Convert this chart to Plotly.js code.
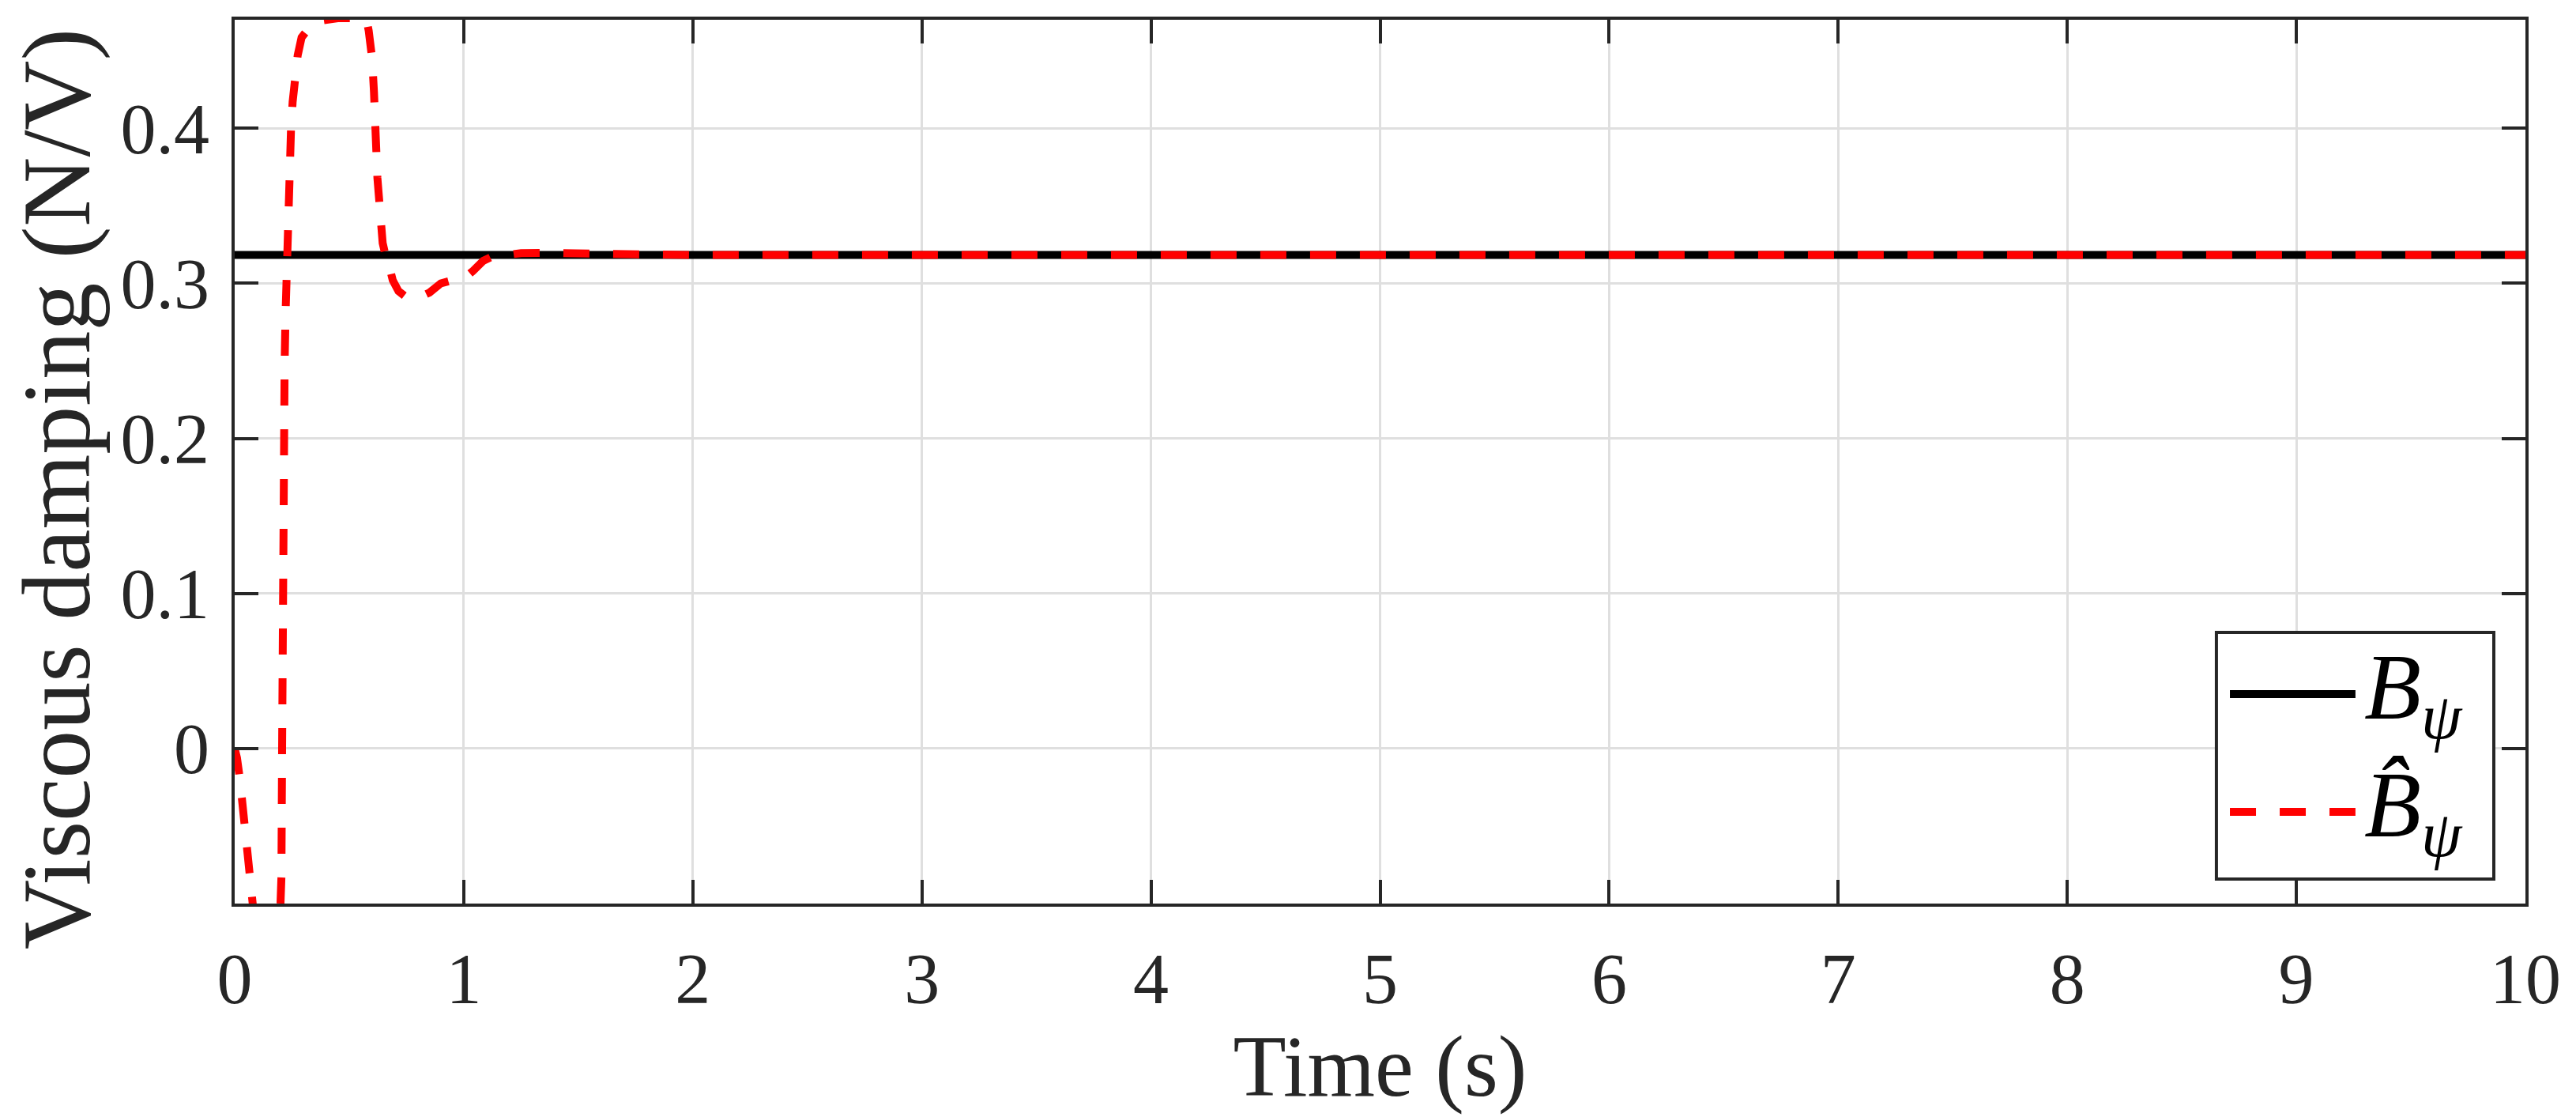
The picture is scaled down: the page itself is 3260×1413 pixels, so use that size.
<!DOCTYPE html>
<html>
<head>
<meta charset="utf-8">
<script src="https://cdn.plot.ly/plotly-3.0.1.min.js"></script>
<style>html,body{margin:0;padding:0;background:#fff;}#chart{width:3260px;height:1413px;}</style>
</head>
<body>
<div id="chart"></div>
<script>
// Time axis (s)
const timeTrue = [0, 10];
const bTrue = [0.3183, 0.3183];

const timeEst = [0, 0.01, 0.023, 0.035, 0.046, 0.057, 0.067, 0.08, 0.095, 0.12, 0.16, 0.19, 0.2, 0.204, 0.207, 0.209, 0.213, 0.218, 0.222, 0.226, 0.230, 0.234, 0.240, 0.246, 0.253, 0.261, 0.275, 0.292, 0.31, 0.331, 0.36, 0.45, 0.56, 0.577, 0.585, 0.593, 0.600, 0.608, 0.615, 0.623, 0.631, 0.638, 0.646, 0.657, 0.669, 0.690, 0.715, 0.75, 0.792, 0.85, 0.9, 0.95, 1.0, 1.04, 1.085, 1.12, 1.162, 1.25, 1.347, 1.5, 2, 10];
const bEst = [0, -0.006, -0.020, -0.038, -0.055, -0.079, -0.094, -0.102, -0.106, -0.108, -0.108, -0.106, -0.100, -0.083, 0.0, 0.093, 0.18, 0.248, 0.28, 0.307, 0.338, 0.365, 0.385, 0.400, 0.417, 0.431, 0.447, 0.4586, 0.463, 0.466, 0.469, 0.471, 0.471, 0.469, 0.463, 0.456, 0.445, 0.4235, 0.3846, 0.368, 0.3534, 0.339, 0.326, 0.319, 0.3145, 0.302, 0.295, 0.291, 0.290, 0.294, 0.300, 0.302, 0.303, 0.308, 0.3145, 0.317, 0.318, 0.3195, 0.3196, 0.319, 0.3183, 0.3183];

const xTicks = [0, 1, 2, 3, 4, 5, 6, 7, 8, 9, 10];
const yTicks = [0, 0.1, 0.2, 0.3, 0.4];
const yTickText = ['0', '0.1', '0.2', '0.3', '0.4'];

const xTitle = 'Time (s)';
const yTitle = 'Viscous damping (N/V)';
const labelTrue = '<i>B</i><sub><i>ψ</i></sub>';
const labelEst = '<i>B̂</i><sub><i>ψ</i></sub>';

const font = 'Liberation Serif';
const ink = '#262626';
const colTrue = '#000000';
const colEst = '#ff0000';

const traces = [
  {x: timeTrue, y: bTrue, mode: 'lines', name: labelTrue, showlegend: false,
   line: {color: colTrue, width: 10}},
  {x: timeEst, y: bEst, mode: 'lines', name: labelEst, showlegend: false,
   line: {color: colEst, width: 10, dash: '33px,30px'}}
];

const axisCommon = {
  showline: true, linecolor: ink, linewidth: 4, mirror: 'ticks',
  ticks: 'inside', ticklen: 30, tickwidth: 4, tickcolor: ink,
  showgrid: true, gridcolor: '#dfdfdf', gridwidth: 3,
  zeroline: false,
  tickfont: {family: font, size: 90, color: ink}
};

// custom legend (paper coordinates)
const lg = {x0: 0.8651, x1: 0.9862, y0: 0.0277, y1: 0.3068,
            lx0: 0.871, lx1: 0.9258, tx: 0.929, yTrue: 0.237, yEst: 0.1038};

const layout = {
  width: 3260, height: 1413,
  paper_bgcolor: '#ffffff', plot_bgcolor: '#ffffff',
  margin: {l: 297, r: 64, t: 25, b: 270},
  showlegend: false,
  xaxis: Object.assign({}, axisCommon, {
    range: [0, 10], tickvals: xTicks, ticktext: xTicks.map(String),
    ticklabelstandoff: 14,
    title: {text: xTitle, font: {family: font, size: 110, color: ink}, standoff: 2}
  }),
  yaxis: Object.assign({}, axisCommon, {
    range: [-0.1, 0.47], tickvals: yTicks, ticktext: yTickText,
    ticklabelstandoff: 10
  }),
  shapes: [
    {type: 'rect', xref: 'paper', yref: 'paper', x0: lg.x0, x1: lg.x1, y0: lg.y0, y1: lg.y1,
     fillcolor: '#ffffff', line: {color: ink, width: 4}, layer: 'above'},
    {type: 'line', xref: 'paper', yref: 'paper', x0: lg.lx0, x1: lg.lx1, y0: lg.yTrue, y1: lg.yTrue,
     line: {color: colTrue, width: 10}, layer: 'above'},
    {type: 'line', xref: 'paper', yref: 'paper', x0: lg.lx0, x1: lg.lx1, y0: lg.yEst, y1: lg.yEst,
     line: {color: colEst, width: 10, dash: '33px,30px'}, layer: 'above'}
  ],
  annotations: [
    {xref: 'paper', yref: 'paper', x: -0.0776, y: 0.4687, xanchor: 'center', yanchor: 'middle',
     textangle: -90, text: yTitle, showarrow: false, font: {family: font, size: 122, color: ink}},
    {xref: 'paper', yref: 'paper', x: lg.tx, y: lg.yTrue, xanchor: 'left', yanchor: 'middle',
     text: labelTrue, showarrow: false, font: {family: font, size: 118, color: '#000000'}},
    {xref: 'paper', yref: 'paper', x: lg.tx, y: lg.yEst, xanchor: 'left', yanchor: 'middle',
     text: labelEst, showarrow: false, font: {family: font, size: 118, color: '#000000'}}
  ]
};

Plotly.newPlot('chart', traces, layout, {displayModeBar: false, staticPlot: true});
</script>
</body>
</html>
